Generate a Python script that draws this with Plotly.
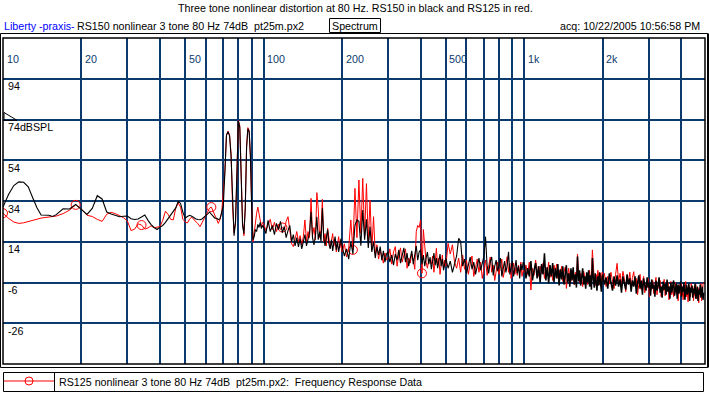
import math
import plotly.graph_objects as go

# ---------------- data ----------------
FREQ_HZ_LOW = [10, 10.5, 11, 11.5, 12, 12.5, 13, 13.5, 14, 14.5, 15, 15.5, 16,
               17, 18, 19, 20, 21, 22, 23, 24, 25, 26, 27, 28, 29, 30,
               31, 32, 33, 34, 35, 36, 37, 38, 39, 40, 41, 42, 43, 44, 45, 46, 47, 48, 49, 50,
               51, 52, 53, 54, 55, 56, 57, 58, 59, 60, 61, 62, 63, 64, 65, 66, 67, 68, 69, 70,
               71, 72, 73, 74, 75, 76, 77, 78, 79, 80, 81, 82, 83, 84, 85, 86, 87, 88, 89, 90,
               91, 92, 93, 94, 95, 96, 97, 98, 99]

RS150_DB_LOW = [31.0, 37.2, 41.6, 43.4, 43.2, 41.0, 35.6, 30.7, 27.1, 27.0, 27.0, 26.4, 27.3,
                30.2, 30.1, 32.3, 29.7, 27.4, 30.4, 36.6, 35.0, 28.6, 27.6, 26.8, 26.3, 26.5, 26.6,
                25.3, 24.9, 25.2, 26.2, 27.1, 24.5, 22.4, 21.0, 20.0, 21.2,
                22.0, 23.5, 25.3, 26.8, 28.5, 30.6, 33.8, 32.8, 28.5, 25.6,
                26.4, 27.0, 26.5, 25.8, 25.2, 24.9, 24.8, 25.2, 25.9, 26.7,
                27.7, 28.5, 27.5, 26.6, 25.6, 25.5, 24.9, 25.2, 28.0, 31.5,
                48.0, 66.5, 68.0, 66.0, 56.0, 30.0, 17.0, 24.0, 52.0, 73.3,
                70.0, 50.0, 22.0, 18.0, 30.0, 60.0, 69.5, 68.0, 55.0, 30.0,
                15.0, 16.5, 20.0, 19.0, 22.5, 21.0, 23.5, 20.5, 22.0]

RS125_DB_LOW = [28.0, 25.5, 23.7, 23.0, 23.3, 24.0, 24.6, 25.2, 25.6, 25.9, 26.1, 26.3, 26.6,
                27.8, 29.5, 32.1, 30.0, 27.0, 26.4, 25.0, 24.0, 27.5, 28.4, 27.8, 26.8, 25.8, 24.2,
                19.5, 20.2, 22.8, 22.2, 20.2, 20.8, 21.8, 20.9, 21.0, 21.4,
                24.5, 29.0, 27.4, 25.0, 24.7, 30.5, 33.0, 31.0, 25.0, 23.7,
                23.2, 25.2, 26.0, 25.0, 24.0, 22.8, 21.4, 23.3, 25.5, 27.5,
                29.0, 30.5, 31.0, 29.2, 27.1, 25.0, 23.0, 25.0, 28.0, 39.4,
                48.5, 66.0, 68.3, 66.5, 57.0, 31.0, 18.5, 23.0, 53.0, 73.5,
                71.0, 51.0, 24.0, 17.0, 31.0, 61.0, 70.0, 68.5, 56.0, 31.0,
                14.0, 18.5, 24.0, 28.0, 31.0, 27.0, 23.0, 21.5, 23.5]

FREQ_HZ_HIGH = [
    100, 102, 104, 106, 108, 110, 112, 114, 116, 118, 120, 122, 124, 126, 128, 130, 132, 134, 136, 138,
    140, 142, 144, 146, 148, 150, 152, 154, 156, 158, 160, 162, 164, 166, 168, 170, 172, 174, 176, 178,
    180, 182, 184, 186, 188, 190, 192, 194, 196, 198,
    200, 204, 208, 212, 216, 220, 224, 228, 232, 236, 240, 244, 248, 252, 256, 260, 264, 268, 272, 276,
    280, 284, 288, 292, 296,
    300, 305, 310, 315, 320, 325, 330, 335, 340, 345, 350, 355, 360, 365, 370, 375, 380, 385, 390, 395,
    400, 405, 410, 415, 420, 425, 430, 435, 440, 445, 450, 455, 460, 465, 470, 475, 480, 485, 490, 495,
    500, 510, 520, 530, 540, 550, 560, 570, 580, 590, 600, 610, 620, 630, 640, 650, 660, 670, 680, 690,
    700, 710, 720, 730, 740, 750, 760, 770, 780, 790, 800, 810, 820, 830, 840, 850, 860, 870, 880, 890,
    900, 910, 920, 930, 940, 950, 960, 970, 980, 990,
    1000, 1015, 1030, 1045, 1060, 1075, 1090, 1105, 1120, 1135, 1150, 1165, 1180, 1195, 1210, 1225, 1240,
    1255, 1270, 1285, 1300, 1315, 1330, 1345, 1360, 1375, 1390, 1405, 1420, 1435, 1450, 1465, 1480, 1495,
    1510, 1525, 1540, 1555, 1570, 1585, 1600, 1615, 1630, 1645, 1660, 1675, 1690, 1705, 1720, 1735, 1750,
    1765, 1780, 1795, 1810, 1825, 1840, 1855, 1870, 1885, 1900, 1915, 1930, 1945, 1960, 1975, 1990,
    2000, 2030, 2060, 2090, 2120, 2150, 2180, 2210, 2240, 2270, 2300, 2330, 2360, 2390, 2420, 2450, 2480,
    2510, 2540, 2570, 2600, 2630, 2660, 2690, 2720, 2750, 2780, 2810, 2840, 2870, 2900, 2930, 2960, 2990,
    3020, 3050, 3080, 3110, 3140, 3170, 3200, 3230, 3260, 3290, 3320, 3350, 3380, 3410, 3440, 3470, 3500,
    3530, 3560, 3590, 3620, 3650, 3680, 3710, 3740, 3770, 3800, 3830, 3860, 3890, 3920, 3950, 3980, 4010,
    4040, 4070, 4100, 4130, 4160, 4190, 4220, 4250, 4280, 4310, 4340, 4370, 4400, 4430, 4460, 4490, 4520,
    4550, 4580, 4610, 4640, 4670, 4700, 4730, 4760, 4790, 4820, 4850, 4880]

RS150_DB_HIGH = [
    21, 18, 24.5, 19, 22, 17.5, 23, 20, 24, 18.5,
    21.5, 16, 19.5, 22, 14, 17.5, 12, 16, 11.5, 15.5,
    10.5, 14, 17.5, 12, 15, 18.5, 28.7, 16, 12.5, 17,
    26.3, 15, 19, 14, 30.4, 16.5, 12, 15.5, 20, 13,
    10.5, 15, 9.5, 13.5, 16.5, 10, 14, 9, 12.5, 15.5,
    12, 7, 10.5, 5.5, 14, 8, 22, 24.7, 24, 12, 29.6, 15, 25, 11, 21.4, 9, 14, 6, 11.5, 7.5,
    11.6, 5, 9.5, 4, 8,
    9, 4, 7.5, 2.5, 8, 5, 10, 3.5, 7, 11,
    4, 8.5, 2, 6.5, 9.5, 3, 7, 12, 5, 9,
    10, 3, 7.5, 2, 6, 9, 3, 6.5, 0.5, 5,
    8.5, 2.5, 6, 1, 4.5, 8, 2, 5.5, 0, 4,
    6, 1, 4.5, -1, 3, 7, 15.7, 14, 2, 5.5,
    -1.5, 3.5, 6.5, 0.5, 4, -2, 2.5, 6, 0, 3.5,
    7, 16.5, 2, -1.5, 4, 6.5, -2.5, 2, 5, -0.5,
    3.5, 6, -3, 1.5, 4.5, -1, 2.5, 9.1, -2, 1.5,
    4.5, -3, 1, 5, -1.5, 2, -4, 3, 0, 4,
    3, -4, 1, -3, 4.5, -5, 0, 3.5, -4, 2,
    -6, 3, -2, 8.3, -5, 1.5, -6.5, 2.5, -3, 3.5,
    -6, 1, -4, 3, -7.5, 0.5, -4.5, 2, -7, -1,
    2.5, -6, -1.5, -8, 1, -5, 1.5, -7, -2, -8.5,
    6.7, -5.5, 0, -7.5, -2.5, 1, -7, -3, -9, -1,
    -6, 0, -8, -2.5, -9.5, 6, -4, -8.5, -1.5, -6.5,
    -10, -3, -7.5, -1, -5, -10.5, -3.5,
    -2, -7, -3.5, -9, -1.5, -6, -10, -3, -7.5, -2.5,
    -8, -4.5, -11, -3, -6.5, -9.5, -2, -7, -4, -10.5,
    -5, -8, -3, -11.5, -6, -2.5, -9, -5, -12, -4,
    -7.5, -10, -3.5, -8.5, -6, -12.5, -4.5, -9, -7, -13,
    -5, -10, -7.5, -3.5, -11, -8, -13.5, -5.5, -9.5, -6.5,
    -12, -4.5, -10.5, -8, -14, -6, -11, -8.5, -5, -12.5,
    -9, -6.5, -14, -7, -11.5, -9, -5.5, -13, -8, -10.5,
    -6, -14.5, -9.5, -7, -12, -10, -6.5, -15, -8.5, -11,
    -7.5, -13.5, -9, -11.5, -6.5, -14, -10, -8, -15, -9.5,
    -12, -7, -13.5, -10.5, -8, -14.5, -11]

RS125_DB_HIGH = [
    23, 19.5, 22, 25, 20, 23.5, 19, 22.5, 20, 21,
    19.8, 24, 26.3, 18, 13, 11.6, 16, 19, 14, 17,
    12.5, 16.5, 24.7, 14, 19, 16, 35.3, 17, 21, 15,
    38.1, 30, 16, 20, 34.8, 14, 18, 12, 20.6, 16,
    11, 14.5, 18, 12, 15, 9, 13, 16.5, 11, 14,
    9, 13, 6.5, 11, 24.7, 10, 40.2, 16, 44.3, 18, 45.1, 17, 42.5, 14, 34.5, 10, 26.3, 8, 12.5, 5.5,
    10, 7, 3.5, 8.5, 5,
    6, 10.5, 3, 9, 11.6, 2, 7.5, 11, 4, 8,
    10.5, 1, 6, 3.5, 8, 5, 0.5, 19, 22, 21,
    24.7, -1.5, 20, 12, 4, 1, 5.5, 5, 3, 7,
    -1, 4, 10.8, 2, 6, -2, 3.5, 7.5, 1, 5,
    2, 13.2, 8, 12.5, 4, 1, 6, -1, 7.5, 0.5,
    5, -2, 3, 7, -3, 2, 5.5, -1, 4, -4,
    1.5, 5, -2.5, 3, 6.5, -1, 2.5, -5, 1, 4,
    -2, 2, 5.5, -3.5, 1, 3, 6.7, -1, 3.5, -4,
    0.5, 3.5, -2, 1.5, -2.5, 2.5, -1, 4, -3, 0,
    -1, 2.5, -2, 4, -9.7, 1, -2.5, 5, 0, -3,
    2, -1.5, 3.5, -4, 1.5, -2, 4, -3.5, 0.5, -5,
    2.5, -1, 3, -4, 0, -2.5, 2, -5.5, -1, 1.5,
    -8.9, -2, 1, -3, -5.5, 0, -2.5, -7, -1, -4,
    8.0, -2, -6, -1.5, -4.5, -8, -0.5, -3, -5.5, -2,
    -7, -3, 0, -5, -2.5, 10.0, -1, -4.5, -7.5, -2,
    -5.5, 0, -3.5, -7, -1.5, -5, -1,
    -5, -1.5, -8, -3, -6.5, -1, -4.5, -9, -2, 3.4,
    -5.5, -1.5, -7, -0.5, -4, -10.5, -2.5, -6, -1, -8,
    -3.5, -0.7, -7.5, -4, -12, -6, -2, -9.5, -5, -3,
    -11, -6.5, -8.5, -4, -13, -7, -9.5, -5, -11.5, -8,
    -3.5, -12, -6.5, -9, -5, -13, -7.5, -10, -4.5, -12.5,
    -8, -10.5, -6, -14.5, -9, -5.5, -12, -7.5, -13, -9.5,
    -6, -11.5, -8.5, -15, -7, -10, -12.5, -6.5, -11, -14.5,
    -8.5, -10, -5.5, -13, -9, -15.5, -7.5, -11, -13, -6.5,
    -10.5, -8, -15, -9, -12.5, -7, -14, -10.5, -8.5, -16,
    -9, -12, -6.5, -15, -10, -7, -6]

# red curve symbol markers that are visible on the RS125 trace
MARKER_FREQ_HZ = [10, 19, 34, 63, 118, 220, 405]

X_GRID_HZ = [10, 20, 30, 40, 50, 60, 70, 80, 90, 100, 200, 300, 400, 500, 600, 700, 800, 900,
             1000, 2000, 3000, 4000]
X_LABELS = [(10, "10"), (20, "20"), (50, "50"), (100, "100"), (200, "200"), (500, "500"),
            (1000, "1k"), (2000, "2k")]
Y_GRID_DB = [-26, -6, 14, 34, 54, 74, 94]
Y_LABELS = [(94, "94"), (74, "74dBSPL"), (54, "54"), (34, "34"), (14, "14"), (-6, "-6"), (-26, "-26")]
Y_RANGE = [-46, 114]
F_MIN, F_MAX = 10, 4935
DENSE_FROM_HZ = 1000  # above this the trace is drawn as a dense band

assert len(FREQ_HZ_LOW) == len(RS150_DB_LOW) == len(RS125_DB_LOW)
assert len(FREQ_HZ_HIGH) == len(RS150_DB_HIGH) == len(RS125_DB_HIGH), (
    len(FREQ_HZ_HIGH), len(RS150_DB_HIGH), len(RS125_DB_HIGH))

freq = FREQ_HZ_LOW + FREQ_HZ_HIGH
rs150 = RS150_DB_LOW + RS150_DB_HIGH
rs125 = RS125_DB_LOW + RS125_DB_HIGH
red_lookup = dict(zip(freq, rs125))
k = freq.index(DENSE_FROM_HZ)

# ---------------- layout geometry ----------------
W, H = 709, 395
ML, MR, MT, MB = 3, 4, 38, 31
PW, PH = W - ML - MR, H - MT - MB


def px(xp):
    return (xp - ML) / PW


def py(yp):
    return (H - MB - yp) / PH


NAVY = "#0b3a6e"
FONT = "Liberation Sans, Arial, sans-serif"
FS = 10.7

fig = go.Figure()
fig.add_trace(go.Scatter(x=freq, y=rs125, mode="lines",
                         line=dict(color="#ff0000", width=1), hoverinfo="skip"))
fig.add_trace(go.Scatter(x=MARKER_FREQ_HZ, y=[red_lookup[f] for f in MARKER_FREQ_HZ], mode="markers",
                         marker=dict(symbol="circle-open", size=9, color="#ff0000",
                                     line=dict(width=1, color="#ff0000")), hoverinfo="skip"))
fig.add_trace(go.Scatter(x=freq[:k + 1], y=rs150[:k + 1], mode="lines",
                         line=dict(color="#000000", width=1.1), hoverinfo="skip"))
fig.add_trace(go.Scatter(x=freq[k:], y=rs150[k:], mode="lines",
                         line=dict(color="#000000", width=1.5), hoverinfo="skip"))

ann = []
# x tick labels (inside, top)
for v, t in X_LABELS:
    ann.append(dict(x=math.log10(v), xref="x", y=py(59), yref="paper", text=t, showarrow=False,
                    xanchor="left", yanchor="middle", xshift=2.5, borderpad=0,
                    font=dict(family=FONT, size=FS, color=NAVY)))
# y tick labels (inside, left, below the grid line)
for v, t in Y_LABELS:
    ann.append(dict(x=px(6.5), xref="paper", y=v, yref="y", text=t, showarrow=False,
                    xanchor="left", yanchor="middle", yshift=-7.5, borderpad=0,
                    font=dict(family=FONT, size=FS, color="#000000")))
# header
ann.append(dict(x=px(355.5), xref="paper", y=py(8), yref="paper", showarrow=False,
                text="Three tone nonlinear distortion at 80 Hz. RS150 in black and RS125 in red.",
                xanchor="center", yanchor="middle", borderpad=0,
                font=dict(family=FONT, size=FS, color="#000000")))
ann.append(dict(x=px(2.5), xref="paper", y=py(25.5), yref="paper", showarrow=False,
                text="Liberty -praxis-", xanchor="left", yanchor="middle", borderpad=0,
                font=dict(family=FONT, size=FS, color="#0000ff")))
ann.append(dict(x=px(76), xref="paper", y=py(25.5), yref="paper", showarrow=False,
                text="RS150 nonlinear 3 tone 80 Hz 74dB\u00a0 pt25m.px2", xanchor="left",
                yanchor="middle", borderpad=0, font=dict(family=FONT, size=FS, color="#000000")))
ann.append(dict(x=px(355), xref="paper", y=py(25.5), yref="paper", showarrow=False,
                text="Spectrum", xanchor="center", yanchor="middle", borderpad=0,
                font=dict(family=FONT, size=FS, color="#000000")))
ann.append(dict(x=px(700.5), xref="paper", y=py(25.5), yref="paper", showarrow=False,
                text="acq: 10/22/2005 10:56:58 PM", xanchor="right", yanchor="middle", borderpad=0,
                font=dict(family=FONT, size=FS, color="#000000")))
# legend text
ann.append(dict(x=px(58), xref="paper", y=py(381.5), yref="paper", showarrow=False,
                text="RS125 nonlinear 3 tone 80 Hz 74dB\u00a0 pt25m.px2:\u00a0 Frequency Response Data",
                xanchor="left", yanchor="middle", borderpad=0,
                font=dict(family=FONT, size=FS, color="#000000")))

shapes = [
    # outer frame
    dict(type="rect", xref="paper", yref="paper", x0=px(0.5), x1=px(707.5), y0=py(367.5), y1=py(33.5),
         line=dict(color="#000000", width=1)),
    dict(type="line", xref="paper", yref="paper", x0=px(708), x1=px(708), y0=py(367.5), y1=py(33.5),
         line=dict(color="#000000", width=2)),
    # inner plot frame
    dict(type="rect", xref="paper", yref="paper", x0=0, x1=1, y0=0, y1=1,
         line=dict(color="#000000", width=1.5)),
    # reference level marker
    dict(type="path", xref="paper", yref="paper",
         path=f"M {px(4)} {py(112.5)} L {px(4)} {py(120.3)} L {px(17)} {py(120.3)} Z",
         line=dict(color="#000000", width=1)),
    # Spectrum box
    dict(type="rect", xref="paper", yref="paper", x0=px(329.5), x1=px(380.5), y0=py(32.5), y1=py(18.5),
         line=dict(color="#000000", width=1)),
    # legend box
    dict(type="rect", xref="paper", yref="paper", x0=px(3.5), x1=px(703.5), y0=py(391.5), y1=py(372.5),
         line=dict(color="#000000", width=1)),
    dict(type="line", xref="paper", yref="paper", x0=px(54.5), x1=px(54.5), y0=py(391.5), y1=py(372.5),
         line=dict(color="#000000", width=1)),
    dict(type="line", xref="paper", yref="paper", x0=px(4), x1=px(54), y0=py(381), y1=py(381),
         line=dict(color="#ff0000", width=1)),
    dict(type="circle", xref="paper", yref="paper", x0=px(25), x1=px(33), y0=py(385), y1=py(377),
         line=dict(color="#ff0000", width=1)),
]

fig.update_layout(
    width=W, height=H, autosize=False,
    margin=dict(l=ML, r=MR, t=MT, b=MB, pad=0),
    paper_bgcolor="#ffffff", plot_bgcolor="#ffffff",
    showlegend=False,
    font=dict(family=FONT, size=FS, color="#000000"),
    xaxis=dict(type="log", range=[math.log10(F_MIN), math.log10(F_MAX)], tickvals=X_GRID_HZ,
               showticklabels=False, ticks="", showgrid=True, gridcolor=NAVY, gridwidth=1.5,
               zeroline=False, showline=False, fixedrange=True),
    yaxis=dict(range=Y_RANGE, tickvals=Y_GRID_DB, showticklabels=False, ticks="", showgrid=True,
               gridcolor=NAVY, gridwidth=1.5, zeroline=False, showline=False, fixedrange=True),
    annotations=ann,
    shapes=shapes,
)

fig.write_html("out.html", config={"displayModeBar": False},
               post_script="document.body.style.margin='0';document.body.style.padding='0';"
                           "document.documentElement.style.overflow='hidden';")
